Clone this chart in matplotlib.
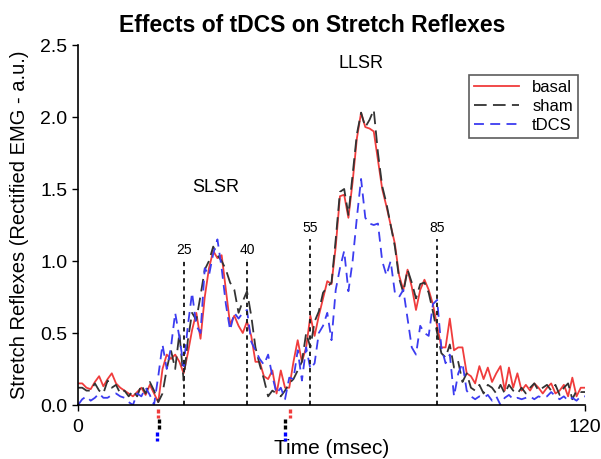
import matplotlib
matplotlib.use("Agg")
import matplotlib.pyplot as plt
import numpy as np

plt.rcParams['font.family'] = ['Liberation Sans', 'DejaVu Sans']

time_ms = list(range(0, 121))

basal = [
    0.15, 0.15, 0.12, 0.11, 0.16, 0.20, 0.13, 0.18, 0.22, 0.15,
    0.12, 0.10, 0.08, 0.06, 0.09, 0.12, 0.07, 0.14, 0.08, 0.02,
    0.25, 0.35, 0.32, 0.35, 0.30, 0.22, 0.36, 0.52, 0.64, 0.46,
    0.75, 0.95, 1.07, 1.02, 1.04, 0.80, 0.56, 0.62, 0.55, 0.50,
    0.58, 0.48, 0.30, 0.30, 0.20, 0.18, 0.24, 0.08, 0.24, 0.12,
    0.12, 0.30, 0.45, 0.30, 0.40, 0.62, 0.48, 0.62, 0.74, 0.86,
    0.84, 1.10, 1.45, 1.46, 1.30, 1.55, 1.85, 2.03, 1.93, 1.92,
    1.90, 1.70, 1.50, 1.38, 1.25, 1.12, 0.90, 0.80, 0.94, 0.82,
    0.66, 0.80, 0.87, 0.80, 0.70, 0.55, 0.40, 0.40, 0.60, 0.38,
    0.40, 0.40, 0.22, 0.20, 0.15, 0.27, 0.18, 0.26, 0.16, 0.22,
    0.27, 0.10, 0.26, 0.12, 0.22, 0.10, 0.14, 0.10, 0.15, 0.12,
    0.08, 0.12, 0.15, 0.08, 0.10, 0.14, 0.06, 0.19, 0.06, 0.12,
    0.12,
]

sham = [
    0.12, 0.12, 0.10, 0.10, 0.15, 0.10, 0.08, 0.17, 0.12, 0.14,
    0.08, 0.10, 0.06, 0.10, 0.06, 0.14, 0.08, 0.16, 0.10, 0.02,
    0.08, 0.25, 0.38, 0.25, 0.50, 0.17, 0.45, 0.64, 0.59, 0.76,
    0.94, 1.00, 1.10, 1.04, 1.00, 0.94, 0.85, 0.80, 0.64, 0.72,
    0.79, 0.62, 0.40, 0.28, 0.18, 0.06, 0.10, 0.08, 0.06, 0.10,
    0.15, 0.18, 0.24, 0.30, 0.50, 0.40, 0.58, 0.65, 0.78, 0.82,
    0.85, 1.15, 1.48, 1.50, 1.32, 1.60, 1.88, 2.03, 1.93, 1.98,
    2.05, 1.75, 1.52, 1.40, 1.25, 1.10, 0.88, 0.78, 0.94, 0.85,
    0.74, 0.84, 0.85, 0.78, 0.65, 0.50, 0.36, 0.33, 0.42, 0.26,
    0.30, 0.16, 0.22, 0.12, 0.10, 0.14, 0.08, 0.14, 0.12, 0.08,
    0.14, 0.08, 0.14, 0.10, 0.08, 0.12, 0.08, 0.12, 0.15, 0.10,
    0.12, 0.14, 0.10, 0.14, 0.07, 0.12, 0.15, 0.04, 0.10, 0.09,
    0.09,
]

tdcs = [
    0.00, 0.04, 0.06, 0.03, 0.05, 0.08, 0.05, 0.05, 0.07, 0.08,
    0.06, 0.05, 0.02, 0.00, 0.08, 0.06, 0.12, 0.07, 0.00, 0.20,
    0.42, 0.25, 0.40, 0.64, 0.47, 0.27, 0.55, 0.78, 0.55, 0.50,
    0.95, 0.90, 1.05, 1.15, 0.95, 0.70, 0.52, 0.64, 0.60, 0.64,
    0.66, 0.44, 0.38, 0.32, 0.28, 0.35, 0.20, 0.08, 0.12, 0.04,
    0.19, 0.18, 0.38, 0.17, 0.40, 0.25, 0.29, 0.50, 0.55, 0.64,
    0.45, 0.80, 0.95, 1.07, 0.79, 1.00, 1.30, 1.57, 1.30, 1.26,
    1.25, 1.26, 1.00, 0.90, 1.00, 0.78, 0.75, 0.80, 0.60, 0.40,
    0.35, 0.55, 0.50, 0.48, 0.70, 0.73, 0.40, 0.29, 0.35, 0.06,
    0.22, 0.29, 0.10, 0.06, 0.04, 0.06, 0.05, 0.07, 0.03, 0.06,
    0.00, 0.05, 0.07, 0.04, 0.05, 0.04, 0.05, 0.06, 0.04, 0.06,
    0.05, 0.06, 0.09, 0.06, 0.04, 0.06, 0.03, 0.05, 0.03, 0.06,
    0.06,
]

window_times = [25, 40, 55, 85]
window_tops = [1.0, 1.0, 1.15, 1.15]
window_labels = ["25", "40", "55", "85"]

onset_times_basal = [18.9, 50.2]
onset_times_sham = [19.1, 48.9]
onset_times_tdcs = [18.6, 49.1]

c_red = "#f03c3c"
c_black = "#333333"
c_blue = "#3c3cf0"

fig = plt.figure(figsize=(6.01, 4.59), dpi=100)
ax = fig.add_axes([78 / 601, 1 - 405 / 459, (585 - 78) / 601, (405 - 45) / 459])

ax.plot(time_ms, basal, color=c_red, lw=1.3, label="basal")
ax.plot(time_ms, sham, color=c_black, lw=1.3, dashes=(7, 3.5), label="sham")
ax.plot(time_ms, tdcs, color=c_blue, lw=1.3, dashes=(5.5, 3.5), label="tDCS")

for t, top, lab in zip(window_times, window_tops, window_labels):
    ax.plot([t, t], [0, top], color="#222222", lw=1.4, dashes=(2.2, 2.0))
    ax.text(t, top + 0.03, lab, ha="center", va="bottom", fontsize=10)

for t in onset_times_basal:
    ax.plot([t, t], [-0.03, -0.09], color=c_red, lw=2.4, dashes=(1.2, 0.6), clip_on=False)
for t in onset_times_sham:
    ax.plot([t, t], [-0.10, -0.17], color="black", lw=2.4, dashes=(1.2, 0.6), clip_on=False)
for t in onset_times_tdcs:
    ax.plot([t, t], [-0.19, -0.25], color="blue", lw=2.4, dashes=(1.2, 0.6), clip_on=False)

ax.text(32.5, 1.45, "SLSR", ha="center", va="bottom", fontsize=13)
ax.text(67.0, 2.31, "LLSR", ha="center", va="bottom", fontsize=13)

ax.set_xlim(0, 120)
ax.set_ylim(0, 2.5)
ax.set_xticks([0, 120])
ax.set_yticks([0.0, 0.5, 1.0, 1.5, 2.0, 2.5])
ax.set_yticklabels(["0.0", "0.5", "1.0", "1.5", "2.0", "2.5"])
ax.tick_params(axis="both", labelsize=14, length=4, width=1, direction="out")
ax.tick_params(axis="x", pad=6)
for s in ["top", "right"]:
    ax.spines[s].set_visible(False)
ax.spines["left"].set_linewidth(1.2)
ax.spines["bottom"].set_linewidth(1.2)

ax.set_xlabel("Time (msec)", fontsize=15, labelpad=2)
ax.set_ylabel("Stretch Reflexes (Rectified EMG - a.u.)", fontsize=14.5, labelpad=8)
fig.text(0.52, 0.945, "Effects of tDCS on Stretch Reflexes", ha="center",
         va="center", fontsize=16.5, fontweight="bold")

leg = ax.legend(loc="upper right", bbox_to_anchor=(0.986, 0.917), fontsize=12,
                frameon=True, fancybox=False, edgecolor="#333333",
                handlelength=2.7, borderpad=0.3, labelspacing=0.25,
                handletextpad=0.8, borderaxespad=0)
leg.get_frame().set_linewidth(1.2)

fig.savefig("out.png", dpi=100)
